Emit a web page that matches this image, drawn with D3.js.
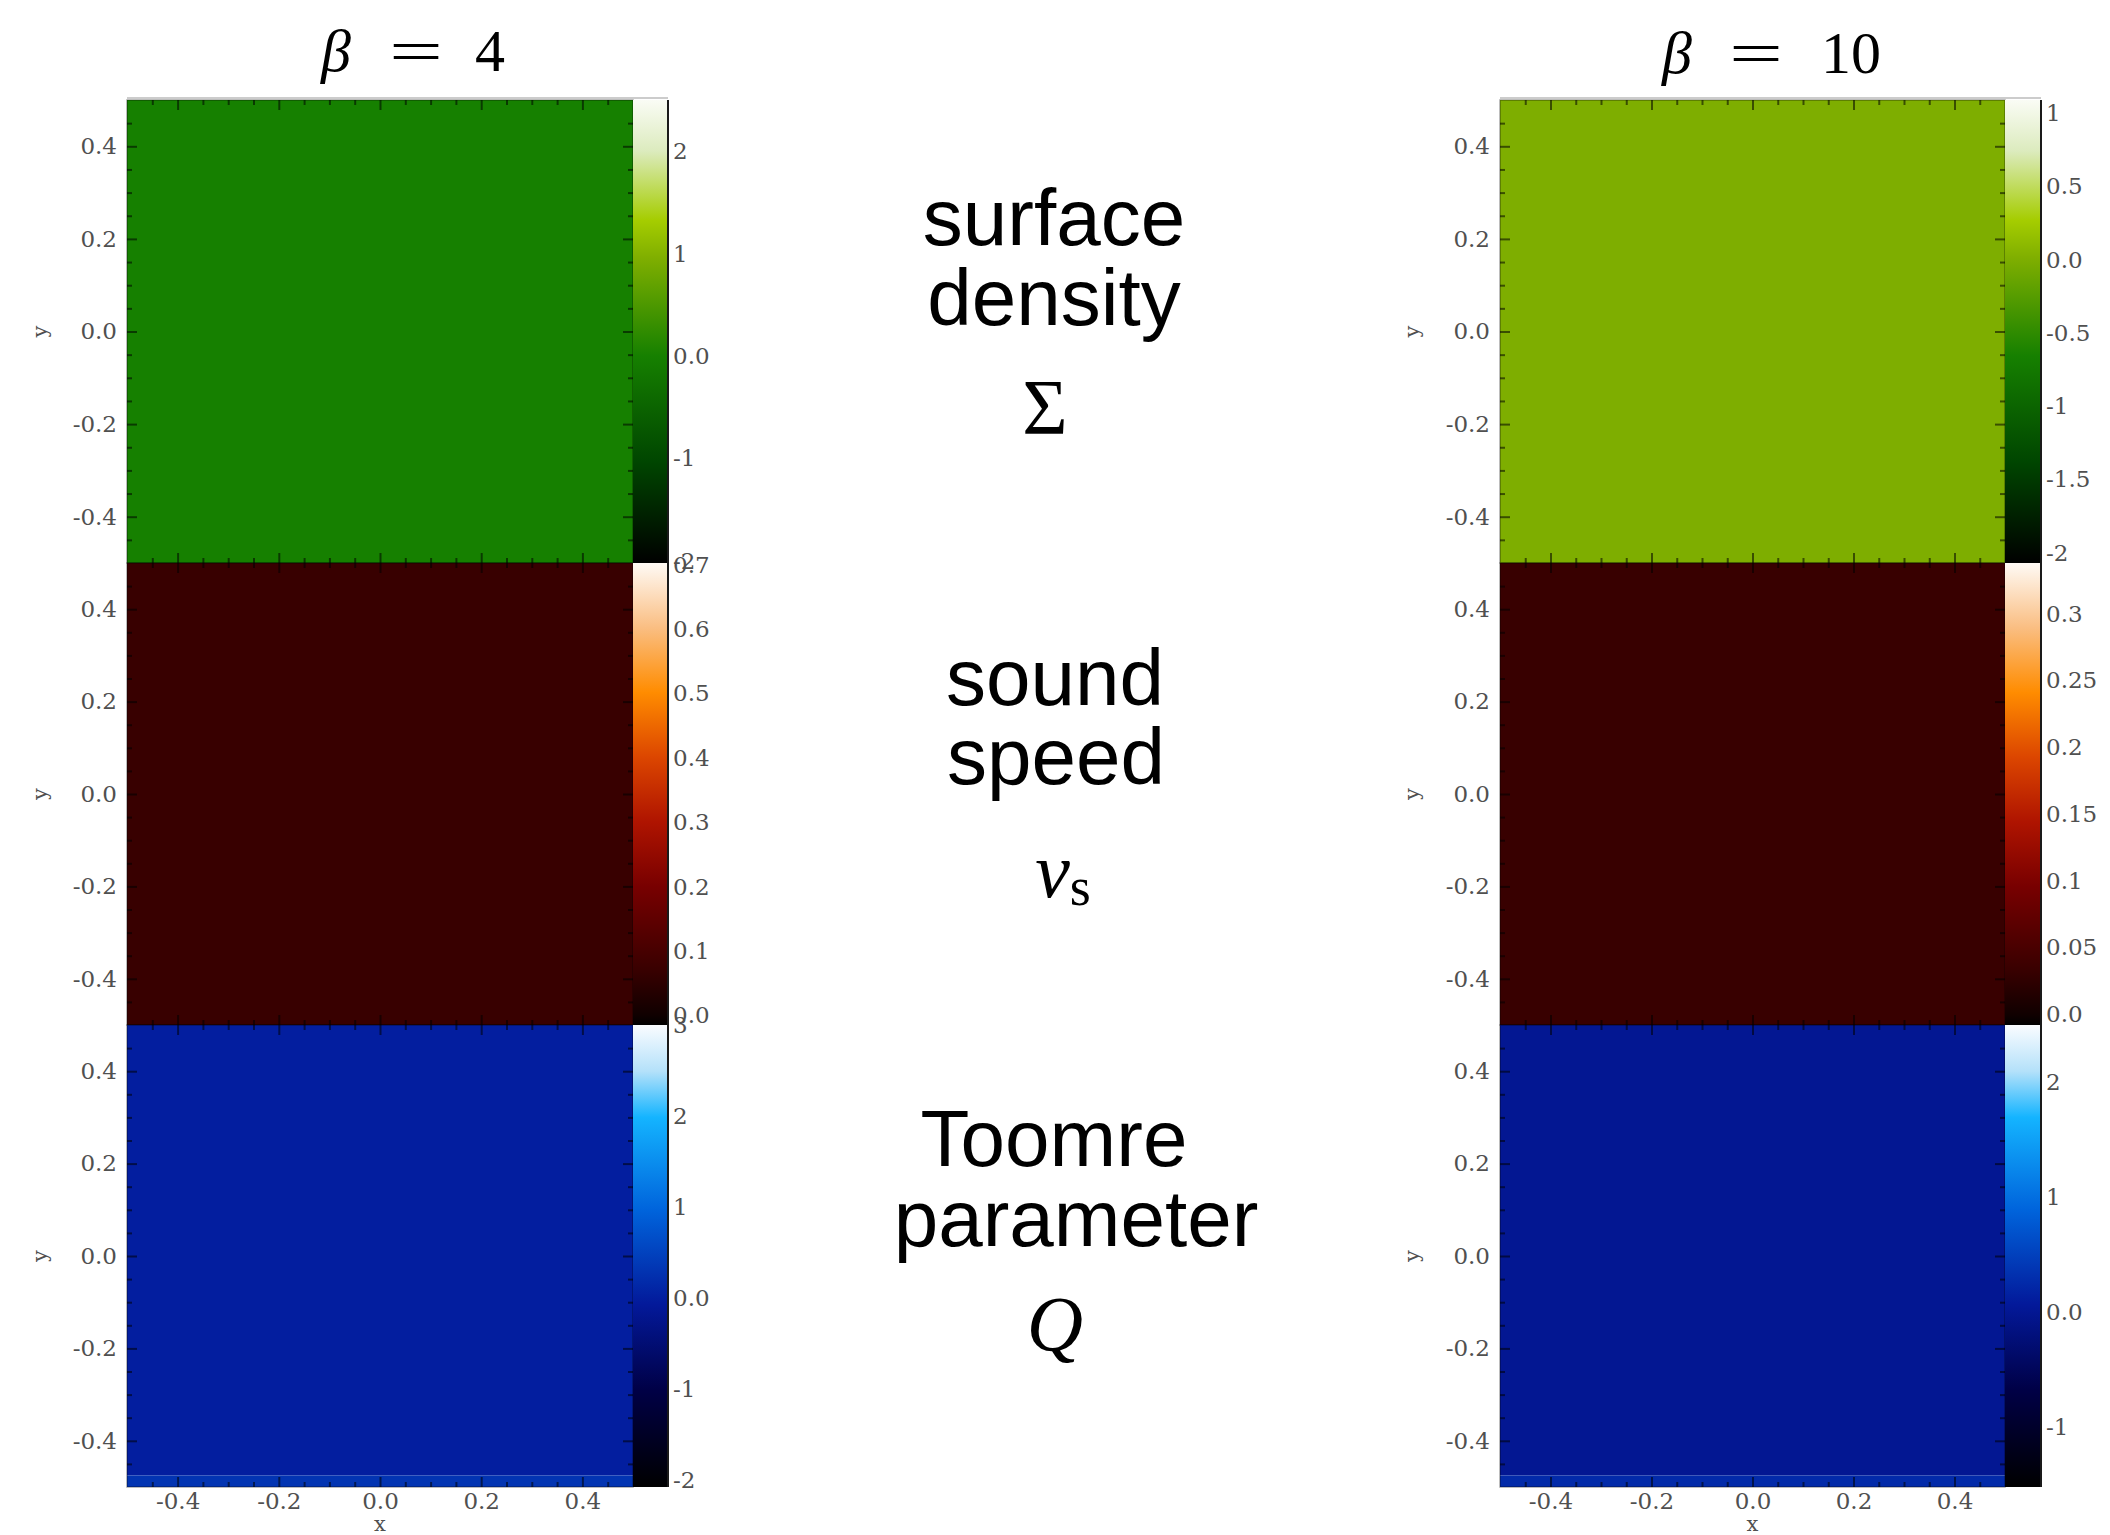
<!DOCTYPE html>
<html>
<head>
<meta charset="utf-8">
<script src="https://cdn.jsdelivr.net/npm/d3@7"></script>
<style>
  html, body { margin: 0; padding: 0; background: #ffffff; }
  svg { display: block; }
</style>
</head>
<body>
<script>
// ---------------- DATA ----------------
const betaValues = ["4", "10"];
const fieldLabels = [["surface", "density"], ["sound", "speed"], ["Toomre", "parameter"]];

const axisTicks = [-0.4, -0.2, 0.0, 0.2, 0.4];
const minorTicks = [-0.45, -0.35, -0.3, -0.25, -0.15, -0.1, -0.05, 0.05, 0.1, 0.15, 0.25, 0.3, 0.35, 0.45];
const domainX = [-0.5, 0.5];
const domainY = [-0.5, 0.5];

// colour-bar ranges and ticks (beta = 4 | beta = 10)
const sigmaRange4 = [-2.02, 2.5];
const sigmaTicks4 = [-2, -1, 0, 1, 2];
const sigmaRange10 = [-2.07, 1.09];
const sigmaTicks10 = [-2, -1.5, -1, -0.5, 0, 0.5, 1];

const csRange4 = [-0.015, 0.703];
const csTicks4 = [0, 0.1, 0.2, 0.3, 0.4, 0.5, 0.6, 0.7];
const csRange10 = [-0.008, 0.338];
const csTicks10 = [0, 0.05, 0.1, 0.15, 0.2, 0.25, 0.3];

const qRange4 = [-2.08, 3.0];
const qTicks4 = [-2, -1, 0, 1, 2, 3];
const qRange10 = [-1.52, 2.5];
const qTicks10 = [-1, 0, 1, 2];

// field cells (data coordinates x0..x1, y0..y1, value)
const sigmaCells4 = [{x0: -0.5, x1: 0.5, y0: -0.5, y1: 0.5, v: 0.0}];
const sigmaCells10 = [{x0: -0.5, x1: 0.5, y0: -0.5, y1: 0.5, v: 0.0}];
const csCells4 = [{x0: -0.5, x1: 0.5, y0: -0.5, y1: 0.5, v: 0.07}];
const csCells10 = [{x0: -0.5, x1: 0.5, y0: -0.5, y1: 0.5, v: 0.033}];
const qCells4 = [
  {x0: -0.5, x1: 0.5, y0: -0.475, y1: 0.5, v: 0.0},
  {x0: -0.5, x1: 0.5, y0: -0.5, y1: -0.475, v: 0.3}
];
const qCells10 = [
  {x0: -0.5, x1: 0.5, y0: -0.475, y1: 0.5, v: 0.0},
  {x0: -0.5, x1: 0.5, y0: -0.5, y1: -0.475, v: 0.25}
];

// colour maps: positions along the bar (0..1) and colours
const greenStops = [0, 0.22, 0.447, 0.66, 0.74, 0.89, 1];
const greenColors = ["#000000", "#004600", "#168000", "#80af00", "#a5cd00", "#dcebbe", "#fafcf5"];
const heatStops = [0, 0.02, 0.118, 0.3, 0.44, 0.58, 0.72, 0.86, 1];
const heatColors = ["#000000", "#0f0000", "#380000", "#780000", "#af1400", "#dc4600", "#ff8c00", "#fabe82", "#fffaf5"];
const blueStops = [0, 0.21, 0.395, 0.6, 0.8, 0.9, 1];
const blueColors = ["#000000", "#000046", "#03199a", "#0064dc", "#14b4ff", "#b4e1fa", "#fafcff"];

// ---------------- LAYOUT ----------------
const W = 2110, H = 1535;
const columns = [
  {px0: 127, px1: 633, cb1: 668, ylabX: 41, betaX: 336, eqX: 416, numX: 490, titleY: 71},
  {px0: 1500, px1: 2005, cb1: 2041, ylabX: 1413, betaX: 1677, eqX: 1756, numX: 1851, titleY: 73}
];
const rowsPx = [[100, 563], [563, 1025], [1025, 1487]];

const panelDefs = [
  [ {cells: sigmaCells4, range: sigmaRange4, ticks: sigmaTicks4, stops: greenStops, colors: greenColors},
    {cells: csCells4, range: csRange4, ticks: csTicks4, stops: heatStops, colors: heatColors},
    {cells: qCells4, range: qRange4, ticks: qTicks4, stops: blueStops, colors: blueColors} ],
  [ {cells: sigmaCells10, range: sigmaRange10, ticks: sigmaTicks10, stops: greenStops, colors: greenColors},
    {cells: csCells10, range: csRange10, ticks: csTicks10, stops: heatStops, colors: heatColors},
    {cells: qCells10, range: qRange10, ticks: qTicks10, stops: blueStops, colors: blueColors} ]
];

const serif = "'Liberation Serif', 'DejaVu Serif', serif";
const tickFont = "'DejaVu Serif', 'Liberation Serif', serif";
const sans = "'Liberation Sans', Arial, Helvetica, sans-serif";
const tickGray = "#505050";

const svg = d3.select("body").append("svg")
  .attr("width", W).attr("height", H)
  .attr("viewBox", `0 0 ${W} ${H}`);
svg.append("rect").attr("width", W).attr("height", H).attr("fill", "#ffffff");
const defs = svg.append("defs");

const fmtBar = v => (v === 0 ? "0.0" : String(v));
const fmtAxis = v => v.toFixed(1);

columns.forEach((col, ci) => {
  const x = d3.scaleLinear().domain(domainX).range([col.px0, col.px1]);

  // title: beta = value
  const tg = svg.append("g").attr("font-family", serif).attr("font-size", 60).attr("fill", "#000");
  tg.append("text").attr("x", col.betaX).attr("y", col.titleY)
    .attr("text-anchor", "middle").attr("font-style", "italic").text("β");
  tg.append("text").attr("x", col.eqX - 27).attr("y", col.titleY)
    .attr("textLength", 54).attr("lengthAdjust", "spacingAndGlyphs").text("=");
  tg.append("text").attr("x", col.numX).attr("y", col.titleY)
    .attr("text-anchor", "middle").text(betaValues[ci]);

  rowsPx.forEach((rp, ri) => {
    const def = panelDefs[ci][ri];
    const y = d3.scaleLinear().domain(domainY).range([rp[1], rp[0]]);
    const tScale = d3.scaleLinear().domain(def.range).range([0, 1]);
    const cmap = d3.scaleLinear().domain(def.stops).range(def.colors)
      .interpolate(d3.interpolateRgb).clamp(true);

    const g = svg.append("g");

    // field cells
    g.selectAll("rect.cell").data(def.cells).join("rect")
      .attr("class", "cell")
      .attr("x", d => x(d.x0))
      .attr("y", d => y(d.y1))
      .attr("width", d => x(d.x1) - x(d.x0))
      .attr("height", d => y(d.y0) - y(d.y1))
      .attr("fill", d => cmap(tScale(d.v)));

    // inner ticks (left, right, top, bottom)
    const tickStyle = sel => {
      sel.select(".domain").remove();
      sel.selectAll("line").attr("stroke", "#000").attr("stroke-opacity", 0.55).attr("stroke-width", 2);
      sel.selectAll("text").remove();
    };
    [[axisTicks, 10], [minorTicks, 5]].forEach(([vals, len]) => {
      g.append("g").attr("transform", `translate(${col.px0},0)`)
        .call(d3.axisRight(y).tickValues(vals).tickSize(len).tickFormat("")).call(tickStyle);
      g.append("g").attr("transform", `translate(${col.px1},0)`)
        .call(d3.axisLeft(y).tickValues(vals).tickSize(len).tickFormat("")).call(tickStyle);
      g.append("g").attr("transform", `translate(0,${rp[0]})`)
        .call(d3.axisBottom(x).tickValues(vals).tickSize(len).tickFormat("")).call(tickStyle);
      g.append("g").attr("transform", `translate(0,${rp[1]})`)
        .call(d3.axisTop(x).tickValues(vals).tickSize(len).tickFormat("")).call(tickStyle);
    });

    // frame
    g.append("rect")
      .attr("x", col.px0).attr("y", rp[0])
      .attr("width", col.px1 - col.px0).attr("height", rp[1] - rp[0])
      .attr("fill", "none").attr("stroke", "#000").attr("stroke-opacity", 0.35).attr("stroke-width", 1.5);

    // y axis labels
    const ya = g.append("g").attr("transform", `translate(${col.px0},0)`)
      .call(d3.axisLeft(y).tickValues(axisTicks).tickSize(0).tickPadding(10).tickFormat(fmtAxis));
    ya.select(".domain").remove();
    ya.attr("font-family", tickFont).attr("font-size", 23);
    ya.selectAll("text").attr("fill", tickGray);

    g.append("text")
      .attr("transform", `translate(${col.ylabX},${(rp[0] + rp[1]) / 2}) rotate(-90)`)
      .attr("text-anchor", "middle").attr("dy", "0.3em")
      .attr("font-family", tickFont).attr("font-size", 21).attr("fill", tickGray)
      .text("y");

    // colour bar
    const gid = `grad-${ci}-${ri}`;
    const grad = defs.append("linearGradient").attr("id", gid)
      .attr("x1", 0).attr("y1", 1).attr("x2", 0).attr("y2", 0);
    def.stops.forEach((s, i) => {
      grad.append("stop").attr("offset", s).attr("stop-color", def.colors[i]);
    });
    const cbY = d3.scaleLinear().domain(def.range).range([rp[1], rp[0]]);
    g.append("rect")
      .attr("x", col.px1).attr("y", cbY(def.range[1]))
      .attr("width", col.cb1 - col.px1).attr("height", cbY(def.range[0]) - cbY(def.range[1]))
      .attr("fill", `url(#${gid})`);
    g.append("line")
      .attr("x1", col.cb1).attr("x2", col.cb1)
      .attr("y1", rp[0]).attr("y2", rp[1])
      .attr("stroke", "#1a1a1a").attr("stroke-width", 2);

    const cba = g.append("g").attr("transform", `translate(${col.cb1},0)`)
      .call(d3.axisRight(cbY).tickValues(def.ticks).tickSize(0).tickPadding(5).tickFormat(fmtBar));
    cba.select(".domain").remove();
    cba.attr("font-family", tickFont).attr("font-size", 23);
    cba.selectAll("text").attr("fill", tickGray);

    // x axis on the bottom panel only
    if (ri === rowsPx.length - 1) {
      const xa = g.append("g").attr("transform", `translate(0,${rp[1]})`)
        .call(d3.axisBottom(x).tickValues(axisTicks).tickSize(0).tickPadding(6).tickFormat(fmtAxis));
      xa.select(".domain").remove();
      xa.attr("font-family", tickFont).attr("font-size", 23);
      xa.selectAll("text").attr("fill", tickGray);
      g.append("text")
        .attr("x", (col.px0 + col.px1) / 2).attr("y", 1531)
        .attr("text-anchor", "middle")
        .attr("font-family", tickFont).attr("font-size", 21).attr("fill", tickGray)
        .text("x");
    }
  });

  // faint line above the top panel
  svg.append("line")
    .attr("x1", col.px0).attr("x2", col.cb1)
    .attr("y1", 98).attr("y2", 98)
    .attr("stroke", "#bbbbbb").attr("stroke-width", 1.5);
});

// ---------------- MIDDLE LABELS ----------------
const mid = svg.append("g").attr("fill", "#000");
const sansLines = [
  {text: fieldLabels[0][0], x: 1054, y: 245},
  {text: fieldLabels[0][1], x: 1054, y: 325},
  {text: fieldLabels[1][0], x: 1055, y: 705},
  {text: fieldLabels[1][1], x: 1056, y: 784},
  {text: fieldLabels[2][0], x: 1054, y: 1166},
  {text: fieldLabels[2][1], x: 1076, y: 1246}
];
mid.selectAll("text.lab").data(sansLines).join("text")
  .attr("class", "lab")
  .attr("x", d => d.x).attr("y", d => d.y)
  .attr("text-anchor", "middle")
  .attr("font-family", sans).attr("font-size", 80)
  .text(d => d.text);

mid.append("text")
  .attr("x", 1045).attr("y", 433).attr("text-anchor", "middle")
  .attr("font-family", serif).attr("font-size", 78)
  .text("Σ");

const vs = mid.append("text")
  .attr("x", 1063).attr("y", 897).attr("text-anchor", "middle")
  .attr("font-family", serif).attr("font-size", 78);
vs.append("tspan").attr("font-style", "italic").text("v");
vs.append("tspan").attr("font-size", 54).attr("dy", 8).text("s");

mid.append("text")
  .attr("x", 1055).attr("y", 1350).attr("text-anchor", "middle")
  .attr("font-family", serif).attr("font-size", 78).attr("font-style", "italic")
  .text("Q");
</script>
</body>
</html>
